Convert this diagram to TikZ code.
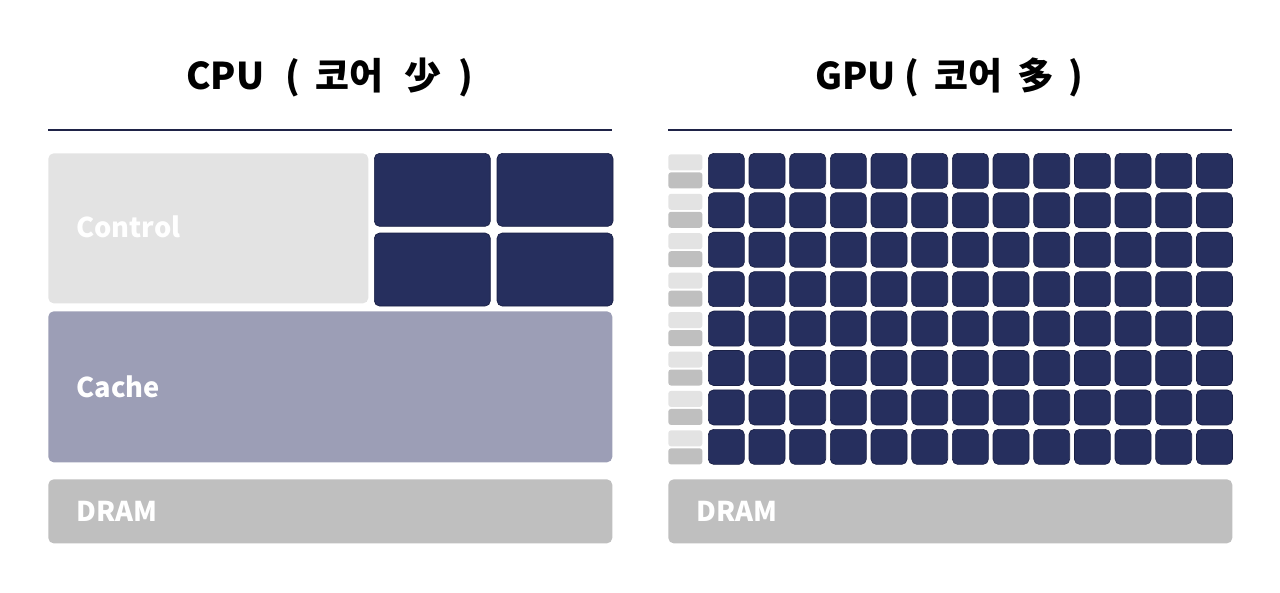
\documentclass[tikz,border=0pt]{standalone}
\usepackage{fontspec}
\usepackage{xcolor}
\usepackage{tikz}
\usetikzlibrary{positioning}
\setmainfont{Noto Sans CJK KR}
\definecolor{mynavy}{HTML}{262F5E}
\definecolor{myedge}{HTML}{1A2045}
\definecolor{myline}{HTML}{1F2347}
\definecolor{mylight}{HTML}{E3E3E3}
\definecolor{mycache}{HTML}{9C9EB6}
\definecolor{mydram}{HTML}{BFBFBF}
\tikzstyle{block} = [rectangle, rounded corners=3pt, inner sep=0pt, anchor=north west, text=white, font=\bfseries\fontsize{15.5}{18}\selectfont, align=left, inner xsep=0.56cm]
\tikzstyle{core} = [rectangle, rounded corners=3pt, inner sep=0pt, anchor=north west, fill=mynavy, draw=myedge, line width=0.4pt]
\tikzstyle{ctrl} = [rectangle, rounded corners=1.5pt, inner sep=0pt, anchor=north west, minimum width=0.68cm, minimum height=0.32cm]
\tikzstyle{title} = [font=\bfseries\fontsize{21}{24}\selectfont]

\begin{document}
\begin{tikzpicture}[x=0.02cm, y=-0.02cm]
\useasboundingbox (0,0) rectangle (1280,592);

% titles and rules
\node[title] (cputitle) at (330,77) {CPU\hspace{0.42cm}(\hspace{0.3cm}코어\hspace{0.42cm}少\hspace{0.36cm})};
\node[title] (gputitle) at (949,77) {GPU\hspace{0.18cm}(\hspace{0.3cm}코어\hspace{0.3cm}多\hspace{0.28cm})};
\draw[myline, line width=1.1pt] (48,130) -- (612,130);
\draw[myline, line width=1.1pt] (668,130) -- (1232,130);

% CPU side
\node[block, fill=mylight, minimum width=6.4cm, minimum height=3cm, text width=5.28cm] (control) at (48,153) {\raisebox{0.08cm}{Control}};
\node[core, minimum width=2.32cm, minimum height=1.46cm] (cpucore1) at (374,153) {};
\node[core, minimum width=2.32cm, minimum height=1.46cm, right=0.12cm of cpucore1.north east, anchor=north west] (cpucore2) {};
\node[core, minimum width=2.32cm, minimum height=1.46cm, below=0.12cm of cpucore1.south west, anchor=north west] (cpucore3) {};
\node[core, minimum width=2.32cm, minimum height=1.46cm, right=0.12cm of cpucore3.north east, anchor=north west] (cpucore4) {};
\node[block, fill=mycache, minimum width=11.28cm, minimum height=3.02cm, text width=10.16cm] (cache) at (48,311) {Cache};
\node[block, fill=mydram, minimum width=11.28cm, minimum height=1.28cm, text width=10.16cm] (cpudram) at (48,479) {DRAM};

% GPU side
\foreach \r in {0,...,7} {
  \node[ctrl, fill=mylight] (gctrl-\r) at (668,{154+\r*39.43}) {};
  \node[ctrl, fill=mydram] (gcache-\r) at (668,{172+\r*39.43}) {};
  \foreach \c in {0,...,12}
    \node[core, minimum width=0.72cm, minimum height=0.70cm] (core-\r-\c) at ({708+\c*40.67},{153+\r*39.43}) {};
}
\node[block, fill=mydram, minimum width=11.28cm, minimum height=1.28cm, text width=10.16cm] (gpudram) at (668,479) {DRAM};
\end{tikzpicture}
\end{document}
